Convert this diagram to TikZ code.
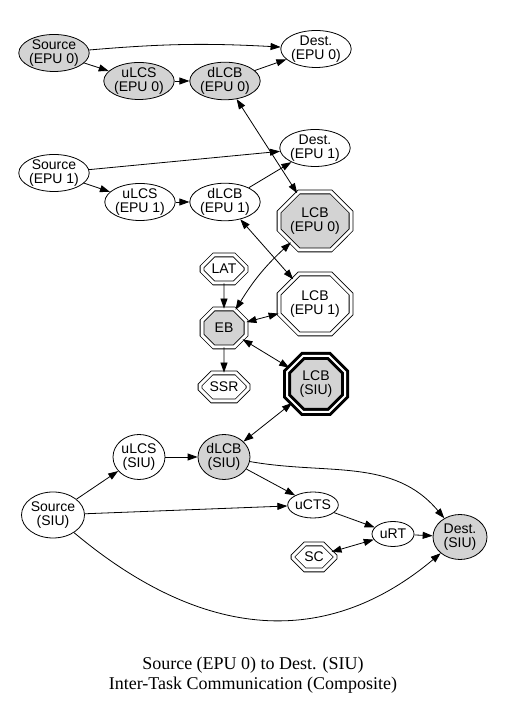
\documentclass[tikz,border=0pt]{standalone}
\usepackage{fontspec}
\setmainfont{Liberation Serif}
\setsansfont{Liberation Sans}
\usetikzlibrary{arrows.meta,shapes.geometric,shapes.misc}

\definecolor{lgray}{RGB}{211,211,211}

\begin{document}
\begin{tikzpicture}[x=1pt,y=1pt,->,>={Triangle[length=10pt,width=7pt]},
                    shorten >=0pt,line width=0.8pt,
                    font=\sffamily\fontsize{14}{13.5}\selectfont]

  \tikzstyle{task}=[ellipse,draw,align=center,inner sep=0pt,
                    minimum width=65pt,minimum height=37pt]
  \tikzstyle{busy}=[fill=lgray]
  \tikzstyle{mbox}=[chamfered rectangle,draw,double,double distance=3pt,
                    align=center,inner sep=0pt]
  \tikzstyle{heavy}=[line width=3pt,double distance=2pt]

  \useasboundingbox (0,0) rectangle (505,708);

  % EPU 0
  \node[task,busy] (srcA)  at (54,655)  {Source\\(EPU 0)};
  \node[task]      (dstA)  at (316,659) {Dest.\\(EPU 0)};
  \node[task,busy] (ulcsA) at (139,627) {uLCS\\(EPU 0)};
  \node[task,busy] (dlcbA) at (225,627) {dLCB\\(EPU 0)};

  % EPU 1
  \node[task] (srcB)  at (54,535)  {Source\\(EPU 1)};
  \node[task] (dstB)  at (315,560) {Dest.\\(EPU 1)};
  \node[task] (ulcsB) at (140,506) {uLCS\\(EPU 1)};
  \node[task] (dlcbB) at (225,506) {dLCB\\(EPU 1)};

  % boxes
  \node[mbox,busy,minimum width=72pt,minimum height=58pt,
        chamfered rectangle xsep=10pt,chamfered rectangle ysep=10pt] (lcbA) at (315,487) {LCB\\(EPU 0)};
  \node[mbox,minimum width=44pt,minimum height=28pt,
        chamfered rectangle xsep=7pt,chamfered rectangle ysep=7pt] (lat) at (224,439) {LAT};
  \node[mbox,minimum width=72pt,minimum height=60pt,
        chamfered rectangle xsep=10pt,chamfered rectangle ysep=10pt] (lcbB) at (315,404) {LCB\\(EPU 1)};
  \node[mbox,busy,minimum width=44pt,minimum height=38pt,
        chamfered rectangle xsep=7pt,chamfered rectangle ysep=7pt] (eb) at (224,380) {EB};
  \node[mbox,minimum width=48pt,minimum height=28pt,
        chamfered rectangle xsep=7pt,chamfered rectangle ysep=7pt] (ssr) at (224,321) {SSR};
  \node[mbox,busy,heavy,minimum width=58pt,minimum height=56pt,
        chamfered rectangle xsep=8pt,chamfered rectangle ysep=8pt] (lcbC) at (316,324) {LCB\\(SIU)};
  \node[mbox,minimum width=42pt,minimum height=26pt,
        chamfered rectangle xsep=7pt,chamfered rectangle ysep=7pt] (sc) at (314,151) {SC};

  % SIU
  \node[task,minimum width=52pt,minimum height=45pt]      (ulcsC) at (139,251) {uLCS\\(SIU)};
  \node[task,busy,minimum width=52pt,minimum height=45pt] (dlcbC) at (224,251) {dLCB\\(SIU)};
  \node[task,minimum width=63pt,minimum height=46pt]      (srcC)  at (53,193)  {Source\\(SIU)};
  \node[task,minimum width=48pt,minimum height=26pt]      (ucts)  at (313,203) {uCTS};
  \node[task,minimum width=42pt,minimum height=25pt]      (urt)   at (393,174) {uRT};
  \node[task,busy,minimum width=54pt,minimum height=45pt] (dstC)  at (460,171) {Dest.\\(SIU)};

  \node[font=\rmfamily\fontsize{18}{20}\selectfont,align=center] (title) at (253,33)
    {Source (EPU 0) to Dest. (SIU)\\Inter-Task Communication (Composite)};

  \path
  (srcA)  edge [bend left=4] (dstA)
  (srcA)  edge (ulcsA)
  (ulcsA) edge (dlcbA)
  (dlcbA) edge (dstA)
  (dlcbA) edge [<->] (lcbA)

  (srcB)  edge (dstB)
  (srcB)  edge (ulcsB)
  (ulcsB) edge (dlcbB)
  (dlcbB) edge (dstB)
  (dlcbB) edge [<->] (lcbB)

  (lat) edge (eb)
  (eb)  edge [<->,bend left=8] (lcbA)
  (eb)  edge [<->] (lcbB)
  (eb)  edge (ssr)
  (eb)  edge [<->] (lcbC)
  (lcbC) edge [<->] (dlcbC)

  (srcC)  edge (ulcsC)
  (ulcsC) edge (dlcbC)
  (dlcbC) edge (ucts)
  (dlcbC) edge [out=-10,in=130] (dstC)
  (srcC)  edge (ucts)
  (ucts)  edge (urt)
  (urt)   edge (dstC)
  (sc)    edge [<->] (urt)
  (srcC)  edge [out=-40,in=-140,looseness=1.1] (dstC)
  ;
\end{tikzpicture}
\end{document}
